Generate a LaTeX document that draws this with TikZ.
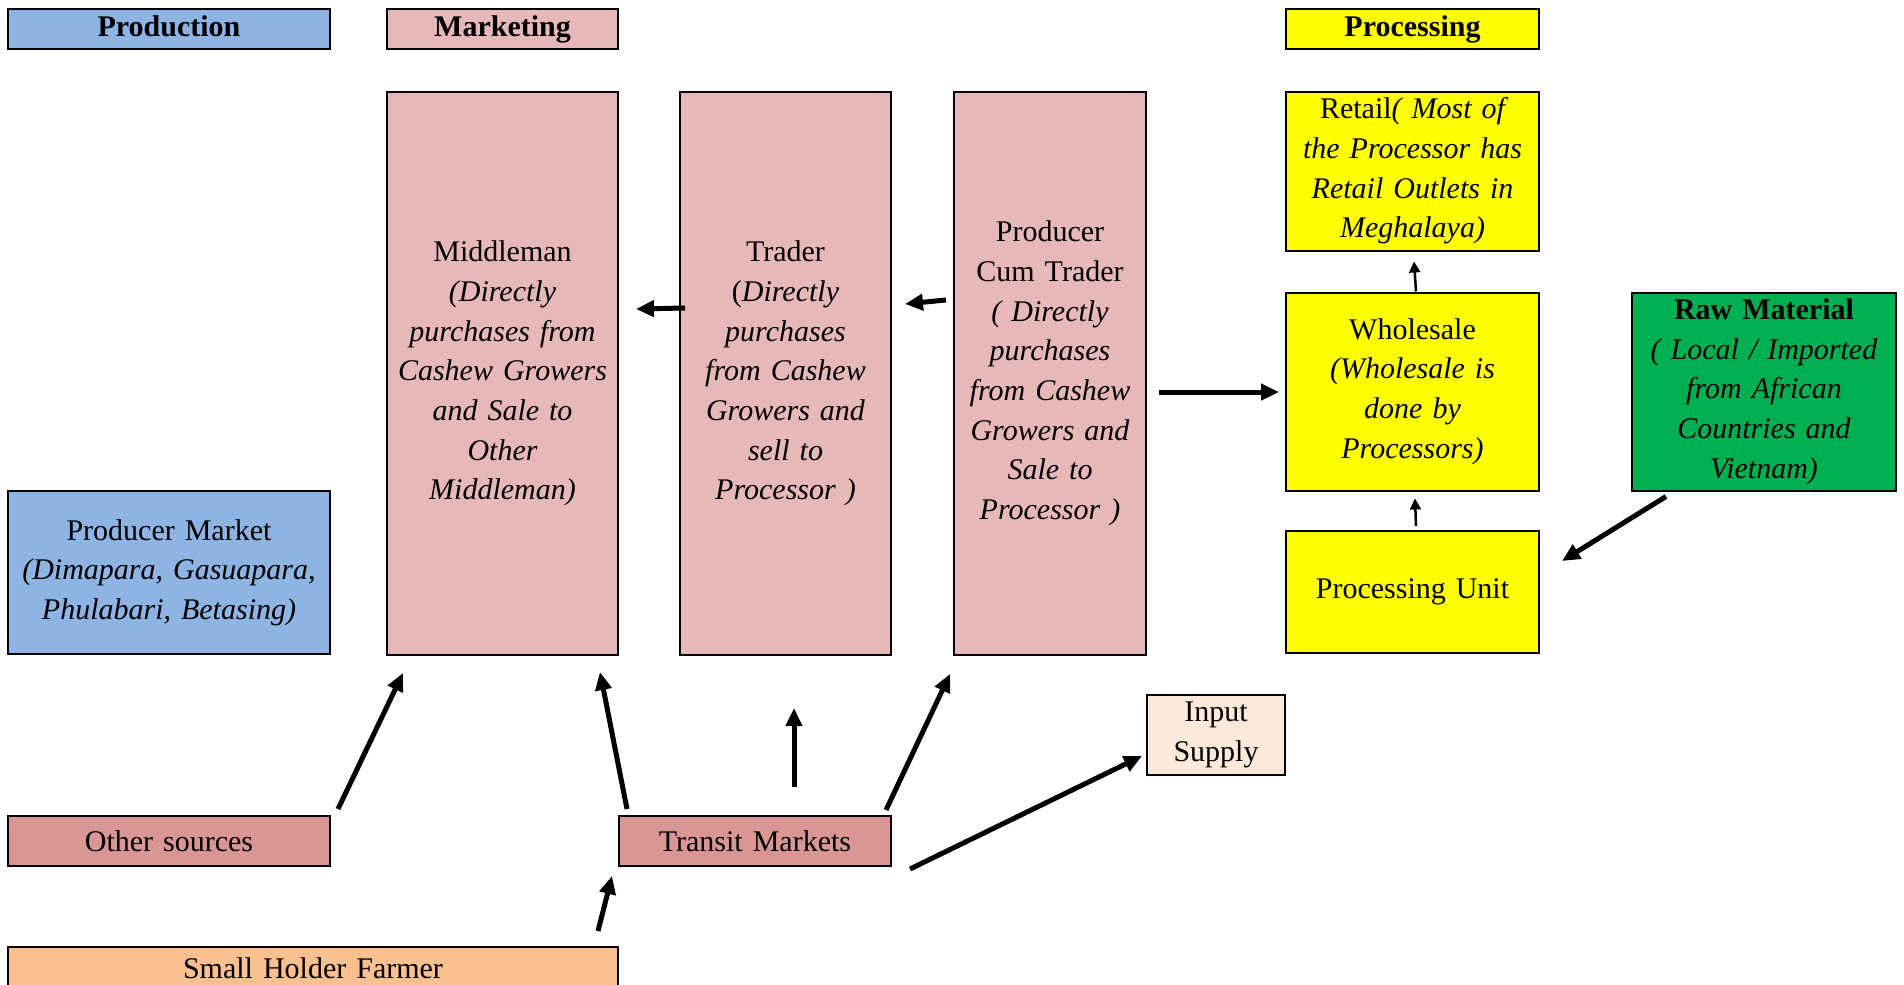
\documentclass[tikz,border=0pt]{standalone}
\usepackage{fontspec}
\setmainfont{Liberation Serif}
\usetikzlibrary{arrows.meta,calc}
\definecolor{prodblue}{HTML}{8EB4E3}
\definecolor{mktpink}{HTML}{E6B9B8}
\definecolor{procyellow}{HTML}{FFFF00}
\definecolor{rawgreen}{HTML}{00B050}
\definecolor{darkpink}{HTML}{D99694}
\definecolor{peach}{HTML}{FAC090}
\definecolor{lightpeach}{HTML}{FDE9D9}
\begin{document}
\begin{tikzpicture}[x=1pt,y=-1pt,
  box/.style={draw=black, line width=2pt, rectangle, inner sep=0pt, align=center,
    font=\fontsize{30}{39.7}\selectfont},
  header/.style={box, minimum height=40pt, font=\fontsize{30}{39.7}\selectfont\bfseries},
  arr/.style={line width=5pt, -{Triangle[length=18pt,width=16pt]}},
  thinarr/.style={line width=2.5pt, -{Triangle[length=11pt,width=11pt]}}
]
\useasboundingbox[fill=white] (0,0) rectangle (1904,985);

% headers
\node[header, fill=prodblue, minimum width=322pt, text width=314pt] (prodH) at (169,28.5) {\strut Production};
\node[header, fill=mktpink, minimum width=231pt, text width=223pt] (mktH) at (502.5,28.5) {\strut Marketing};
\node[header, fill=procyellow, minimum width=253pt, text width=245pt] (procH) at (1412.5,28.5) {\strut Processing};

% marketing column
\node[box, fill=mktpink, minimum width=231pt, minimum height=563pt, text width=225pt] (mid) at (502.5,373.5)
  {Middleman\\ \itshape (Directly\\ purchases from\\ Cashew Growers\\ and Sale to\\ Other\\ Middleman)};
\node[box, fill=mktpink, minimum width=211pt, minimum height=563pt, text width=205pt] (trader) at (785.5,373.5)
  {Trader\\ ({\itshape Directly\\ purchases\\ from Cashew\\ Growers and\\ sell to\\ Processor )}};
\node[box, fill=mktpink, minimum width=192pt, minimum height=563pt, text width=188pt] (pct) at (1050,373.5)
  {Producer\\ Cum Trader\\ \itshape ( Directly\\ purchases\\ from Cashew\\ Growers and\\ Sale to\\ Processor )};

% processing column
\node[box, fill=procyellow, minimum width=253pt, minimum height=159pt, text width=247pt] (retail) at (1412.5,171)
  {Retail{\itshape( Most of\\ the Processor has\\ Retail Outlets in\\ Meghalaya)}};
\node[box, fill=procyellow, minimum width=253pt, minimum height=198pt, text width=247pt] (whole) at (1412.5,391.5)
  {Wholesale\\ \itshape (Wholesale is\\ done by\\ Processors)};
\node[box, fill=procyellow, minimum width=253pt, minimum height=122pt, text width=247pt] (punit) at (1412.5,592)
  {Processing Unit};
\node[box, fill=rawgreen, minimum width=264pt, minimum height=198pt, text width=258pt] (raw) at (1764,391.5)
  {\bfseries Raw Material\\ \mdseries\itshape ( Local / Imported\\ from African\\ Countries and\\ Vietnam)};

% production column
\node[box, fill=prodblue, minimum width=322pt, minimum height=163pt, text width=316pt] (pmkt) at (169,572.5)
  {Producer Market\\ \itshape (Dimapara, Gasuapara,\\ Phulabari, Betasing)};
\node[box, fill=darkpink, minimum width=322pt, minimum height=50pt, text width=316pt] (other) at (169,841)
  {Other sources};
\node[box, fill=darkpink, minimum width=272pt, minimum height=50pt, text width=266pt] (transit) at (755,841)
  {Transit Markets};
\node[box, fill=lightpeach, minimum width=138pt, minimum height=80pt, text width=132pt] (input) at (1216,735)
  {Input\\ Supply};
\node[box, fill=peach, minimum width=610pt, minimum height=42pt, text width=604pt] (small) at (313,968)
  {Small Holder Farmer};

% connectors
\draw[arr] ($(trader.west)+(6,-65.5)$) -- ($(mid.east)+(17,-64.5)$);
\draw[arr] ($(pct.west)+(-7,-73.5)$) -- ($(trader.east)+(13,-69.5)$);
\draw[arr] ($(pct.east)+(12,18.5)$) -- ($(whole.west)+(-6,0.5)$);
\draw[thinarr] ($(whole.north)+(3.5,0)$) -- ($(retail.south)+(1.5,10)$);
\draw[thinarr] ($(punit.north)+(3.5,-4)$) -- ($(whole.south)+(2.5,7)$);
\draw[arr] ($(raw.south west)+(35,5)$) -- ($(punit.east)+(22,-31)$);
\draw[arr] ($(other.north east)+(7,-6)$) -- ($(mid.south west)+(17,17)$);
\draw[arr] ($(transit.north west)+(9,-6)$) -- ($(mid.south east)+(-19,16)$);
\draw[arr] ($(transit.north)+(39,-28)$) -- ($(trader.south)+(8.5,52)$);
\draw[arr] ($(transit.north east)+(-6,-5)$) -- ($(pct.south west)+(-3,18)$);
\draw[arr] ($(transit.south east)+(18,2)$) -- ($(input.west)+(-4,21)$);
\draw[arr] ($(small.north east)+(-21,-15)$) -- ($(transit.south west)+(-6,9)$);
\end{tikzpicture}
\end{document}
